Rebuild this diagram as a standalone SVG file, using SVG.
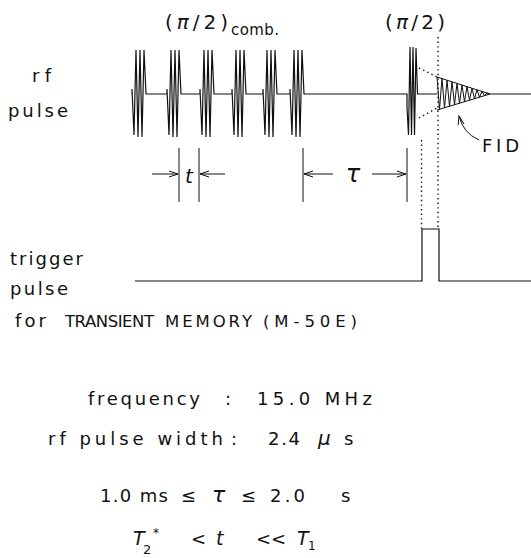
<svg xmlns="http://www.w3.org/2000/svg" width="531" height="558" viewBox="0 0 531 558">
<style>
text{font-family:"DejaVu Sans","Liberation Sans",sans-serif;fill:#111;}
.lbl{font-size:18px;}
.cap{font-size:16.5px;}
.big{font-size:20px;}
.it{font-style:italic;}
.tr{fill:none;stroke:#111;stroke-width:1.2;stroke-linejoin:miter;}
.thin{fill:none;stroke:#111;stroke-width:1;}
.dot{fill:none;stroke:#111;stroke-width:1.4;stroke-dasharray:1.4 3.2;}
</style>
<defs>
<marker id="ah" markerWidth="10" markerHeight="8" refX="9" refY="4" orient="auto" markerUnits="userSpaceOnUse">
<path d="M0,1 L9,4 L0,7" fill="none" stroke="#111" stroke-width="1"/>
</marker>
</defs>

<g id="labels">
<text class="big" x="165" y="29" textLength="63" lengthAdjust="spacing">(<tspan class="it">π</tspan>/2)</text>
<text x="231" y="35" font-size="15" textLength="48" lengthAdjust="spacing">comb.</text>
<text class="big" x="385" y="29" textLength="60" lengthAdjust="spacing">(<tspan class="it">π</tspan>/2)</text>
<text class="lbl" x="32" y="82" textLength="19" lengthAdjust="spacing">rf</text>
<text class="lbl" x="8" y="117" textLength="60" lengthAdjust="spacing">pulse</text>
<text class="lbl" x="482" y="152" textLength="37" lengthAdjust="spacing">FID</text>
<text class="lbl" x="10" y="265" textLength="73" lengthAdjust="spacing">trigger</text>
<text class="lbl" x="10" y="295" textLength="58" lengthAdjust="spacing">pulse</text>
<text class="lbl" x="15" y="327" textLength="31" lengthAdjust="spacing">for</text>
<text class="cap" x="65" y="327" textLength="89" lengthAdjust="spacing">TRANSIENT</text>
<text class="cap" x="165" y="327" textLength="87" lengthAdjust="spacing">MEMORY</text>
<text class="cap" x="263" y="327" textLength="94" lengthAdjust="spacing">(M-50E)</text>
</g>

<g id="rf-trace">
<path class="tr" d="M132,94 l0,-5 l2,46 l2,-85 l2,87 l2,-87 l2,87 l2,-87 l2,44
H167 l0,-5 l2,46 l2,-85 l2,87 l2,-87 l2,87 l2,-87 l2,44
H200 l0,-5 l2,46 l2,-85 l2,87 l2,-87 l2,87 l2,-87 l2,44
H232 l0,-5 l2,46 l2,-85 l2,87 l2,-87 l2,87 l2,-87 l2,44
H263 l0,-5 l2,46 l2,-85 l2,87 l2,-87 l2,87 l2,-87 l2,44
H290 l0,-5 l2,46 l2,-85 l2,87 l2,-87 l2,87 l2,-87 l2,44
H407 l0,13 l1.5,28 l1.5,-88 l1.5,88 l1.5,-88 l1.5,88 l1.5,-87 l1.5,46 H437"/>
<g id="fid">
<path class="thin" d="M437,77 L490,94 L437,110"/>
<polyline class="thin" stroke-width="0.9" points="437,77 439.5,109.2 442,78.6 444.5,107.7 447,80.2 449.5,106.2 452,81.8 454.5,104.7 457,83.4 459.5,103.2 462,85 464.5,101.7 467,86.6 469.5,100.2 472,88.2 474.5,98.7 477,89.8 479.5,97.2 482,91.4 484.5,95.7 487,93 489.5,94.2"/>
<path class="tr" d="M490,94 H531"/>
</g>
<path class="dot" d="M419,68 L437,77"/>
<path class="dot" d="M419,118 L437,108"/>
</g>

<g id="trigger">
<path class="tr" d="M135,281 H422 V229 H439 V281 H531"/>
</g>

<g id="connectors">
<path class="dot" d="M438,37 V229"/>
<path class="dot" d="M421.5,140 V229"/>
<path class="thin" d="M179,148 V202 M199,148 V202 M303,148 V202 M407,148 V202"/>
<path class="thin" d="M152,174 H178" marker-end="url(#ah)"/>
<path class="thin" d="M225,174 H200" marker-end="url(#ah)"/>
<path class="thin" d="M333,174 H304" marker-end="url(#ah)"/>
<path class="thin" d="M372,174 H406" marker-end="url(#ah)"/>
<path class="thin" d="M479,140 Q463,133 459,116" marker-end="url(#ah)"/>
</g>

<g id="interval-labels">
<text class="it" font-size="20" x="189" y="183" text-anchor="middle">t</text>
<text class="it" font-size="24" x="353" y="182" text-anchor="middle">τ</text>
</g>

<g id="conditions">
<text class="lbl" x="88" y="405" textLength="112" lengthAdjust="spacing">frequency</text>
<text class="lbl" x="225" y="405">:</text>
<text class="lbl" x="257" y="405" textLength="115" lengthAdjust="spacing">15.0 MHz</text>
<text class="lbl" x="48" y="445" textLength="175" lengthAdjust="spacing">rf pulse width</text>
<text class="lbl" x="231" y="445">:</text>
<text class="lbl" x="268" y="445" textLength="32" lengthAdjust="spacing">2.4</text>
<text class="it" font-size="20" x="318" y="445">μ</text>
<text class="lbl" x="344" y="445">s</text>
<text class="lbl" x="100" y="502" textLength="68" lengthAdjust="spacing">1.0 ms</text>
<text class="lbl" x="181" y="502">≤</text>
<text class="it" font-size="22" x="212" y="502">τ</text>
<text class="lbl" x="241" y="502">≤</text>
<text class="lbl" x="270" y="502" textLength="35" lengthAdjust="spacing">2.0</text>
<text class="lbl" x="341" y="502">s</text>
<text class="it" font-size="19" x="133" y="545">T</text>
<text x="143" y="554" font-size="13">2</text>
<text x="153" y="537" font-size="12">*</text>
<text class="lbl" x="191" y="545">&lt;</text>
<text class="it" font-size="19" x="216" y="545">t</text>
<text class="lbl" x="256" y="545">&lt;&lt;</text>
<text class="it" font-size="19" x="297" y="545">T</text>
<text x="308" y="550" font-size="12">1</text>
</g>
</svg>
